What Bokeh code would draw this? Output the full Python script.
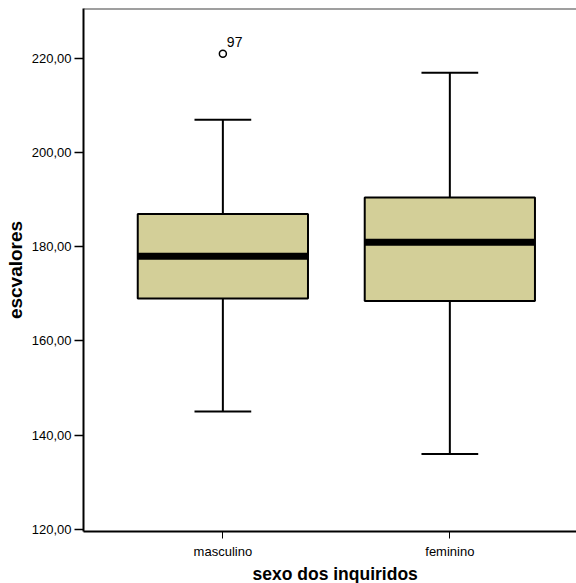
from bokeh.plotting import figure
from bokeh.models import Range1d, FixedTicker, Span, Title, ColumnDataSource
from bokeh.core.properties import value
from bokeh.embed import file_html
from bokeh.resources import INLINE

# Box-plot summary per group
groups = ["masculino", "feminino"]
lower_whisker = [145.0, 136.0]
q1 = [169.0, 168.5]
median = [178.0, 181.0]
q3 = [187.0, 190.5]
upper_whisker = [207.0, 217.0]

# Outliers (case number shown next to the point)
outlier_group = ["masculino"]
outlier_value = [221.0]
outlier_case = ["97"]

# Axis ticks
y_ticks = [120, 140, 160, 180, 200, 220]
y_tick_labels = ["120,00", "140,00", "160,00", "180,00", "200,00", "220,00"]

FONT = "Liberation Sans"
BOX_W = 0.75
CAP_W = 0.25
BOX_FILL = "#D3CF98"

pos = [i + 1 for i in range(len(groups))]
pos_of = dict(zip(groups, pos))

src = ColumnDataSource(dict(
    x=pos,
    left=[p - BOX_W / 2 for p in pos],
    right=[p + BOX_W / 2 for p in pos],
    cap_l=[p - CAP_W / 2 for p in pos],
    cap_r=[p + CAP_W / 2 for p in pos],
    lw=lower_whisker, q1=q1, med=median, q3=q3, uw=upper_whisker,
))

out_src = ColumnDataSource(dict(
    x=[pos_of[g] for g in outlier_group],
    y=outlier_value,
    case=outlier_case,
))

p = figure(width=576, height=583, output_backend="svg", toolbar_location=None,
           x_range=Range1d(0.386, 2.558), y_range=Range1d(119.53, 230.63),
           min_border_left=83, min_border_right=0, min_border_top=8,
           min_border_bottom=52)
p.outline_line_color = None
p.grid.visible = False
p.background_fill_color = "white"
p.border_fill_color = "white"

# whiskers
p.segment(x0="x", y0="q3", x1="x", y1="uw", source=src, line_color="black", line_width=2)
p.segment(x0="x", y0="q1", x1="x", y1="lw", source=src, line_color="black", line_width=2)
p.segment(x0="cap_l", y0="uw", x1="cap_r", y1="uw", source=src, line_color="black", line_width=2)
p.segment(x0="cap_l", y0="lw", x1="cap_r", y1="lw", source=src, line_color="black", line_width=2)

# boxes and medians
p.quad(left="left", right="right", bottom="q1", top="q3", source=src,
       fill_color=BOX_FILL, line_color="black", line_width=2)
p.segment(x0="left", y0="med", x1="right", y1="med", source=src,
          line_color="black", line_width=7, line_cap="butt")

# outliers
p.scatter(x="x", y="y", source=out_src, marker="circle", size=7,
          fill_color="white", line_color="black", line_width=1.5)
p.text(x="x", y="y", text="case", source=out_src, x_offset=4, y_offset=-12,
       text_font=value(FONT), text_font_size="14px", text_color="black",
       text_align="left", text_baseline="alphabetic")

# top frame edge
p.add_layout(Span(location=p.y_range.end, dimension="width",
                  line_color="#404040", line_width=2))

# y axis
ya = p.yaxis[0]
ya.ticker = FixedTicker(ticks=y_ticks)
ya.major_label_overrides = dict(zip(y_ticks, y_tick_labels))
ya.minor_tick_line_color = None
ya.major_tick_in = 0
ya.major_tick_out = 9
ya.major_tick_line_width = 1.5
ya.major_label_standoff = 3
ya.axis_line_width = 2
ya.major_label_text_font = FONT
ya.major_label_text_font_size = "13px"
ya.major_label_text_color = "black"
ya.axis_label = "escvalores"
ya.axis_label_text_font = FONT
ya.axis_label_text_font_style = "bold"
ya.axis_label_text_font_size = "19px"
ya.axis_label_text_color = "black"
ya.axis_label_standoff = 3

# x axis
xa = p.xaxis[0]
xa.ticker = FixedTicker(ticks=pos)
xa.major_label_overrides = dict(zip(pos, groups))
xa.minor_tick_line_color = None
xa.major_tick_in = 0
xa.major_tick_out = 7
xa.major_tick_line_width = 1
xa.major_label_standoff = 5
xa.axis_line_width = 2
xa.major_label_text_font = FONT
xa.major_label_text_font_size = "13px"
xa.major_label_text_color = "black"

# x axis title, placed centrally between the two groups
p.add_layout(Title(text="sexo dos inquiridos", align="left", offset=169,
                   standoff=0, text_font=FONT, text_font_style="bold",
                   text_font_size="17.5px", text_color="black"), "below")

open("out.html", "w").write(file_html(p, INLINE))
